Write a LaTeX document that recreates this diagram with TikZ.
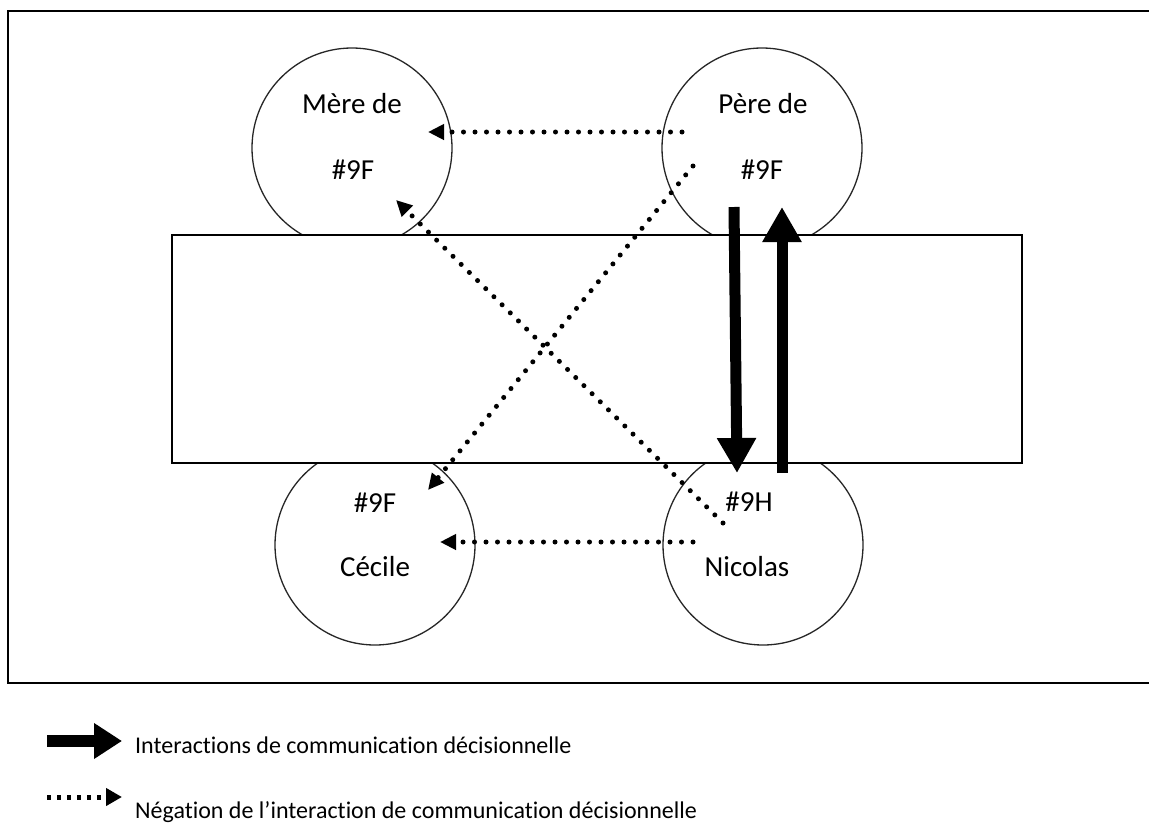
\documentclass[tikz,border=0pt]{standalone}
\usepackage{fontspec}
\setmainfont{Carlito}[Ligatures=NoCommon]
\usetikzlibrary{arrows.meta}
\begin{document}
\begin{tikzpicture}[x=1pt,y=-1pt,
  person/.style={circle,draw=black!85,line width=1.3pt,minimum size=200pt,inner sep=0pt},
  lbl/.style={font=\fontsize{29}{32}\selectfont,inner sep=0pt,anchor=center},
  legtxt/.style={font=\fontsize{24}{27}\selectfont,inner sep=0pt,anchor=west},
  bigarrow/.style={line width=11pt,-{Triangle[length=35pt,width=37pt]}},
  dotarrow/.style={line width=5pt,line cap=round,dash pattern=on 0pt off 11.5pt,-{Triangle[length=16pt,width=15pt]}},
  legbig/.style={line width=12pt,-{Triangle[length=28pt,width=34pt]}},
  legdot/.style={line width=5pt,dash pattern=on 4pt off 6pt,-{Triangle[length=16pt,width=17pt]}},
]
\useasboundingbox (0,0) rectangle (1149,830);
% outer frame
\coordinate (f1) at (1149,11);
\coordinate (f2) at (8,11);
\coordinate (f3) at (8,683);
\coordinate (f4) at (1149,683);
\draw[line width=2pt] (f1) -- (f2) -- (f3) -- (f4);
% circles
\node[person] (mere) at (352,148) {};
\node[person] (pere) at (762,148) {};
\node[person] (cecile) at (375,545) {};
\node[person] (nicolas) at (763,545) {};
% central rectangle
\node[draw=black,fill=white,line width=1.5pt,minimum width=850pt,minimum height=228pt,inner sep=0pt] (box) at (597,349) {};
% labels
\node[lbl] (t1) at (352,104) {Mère de};
\node[lbl] (t2) at (353,170) {\#9F};
\node[lbl] (t3) at (763,104) {Père de};
\node[lbl] (t4) at (762,170) {\#9F};
\node[lbl] (t5) at (375,503) {\#9F};
\node[lbl] (t6) at (375,567) {Cécile};
\node[lbl] (t7) at (749,502) {\#9H};
\node[lbl] (t8) at (747,567) {Nicolas};
% arrow end points
\coordinate (p1) at (682,132);
\coordinate (m1) at (428,132);
\coordinate (n1) at (693,542);
\coordinate (c1) at (440,542);
\coordinate (p2) at (693,166);
\coordinate (c2) at (428,490);
\coordinate (n2) at (723,523);
\coordinate (m2) at (396,200);
\coordinate (pd) at (734,207);
\coordinate (nd) at (737,473);
\coordinate (nu) at (782,473);
\coordinate (pu) at (782,207);
% dotted arrows
\draw[dotarrow] (p1) -- (m1);
\draw[dotarrow] (n1) -- (c1);
\draw[dotarrow] (p2) -- (c2);
\draw[dotarrow] (n2) -- (m2);
% thick arrows
\draw[bigarrow] (pd) -- (nd);
\draw[bigarrow] (nu) -- (pu);
% legend
\coordinate (l1a) at (47,741);
\coordinate (l1b) at (122,741);
\coordinate (l2a) at (47,797);
\coordinate (l2b) at (122,797);
\draw[legbig] (l1a) -- (l1b);
\draw[legdot] (l2a) -- (l2b);
\node[legtxt] (lt1) at (135,745) {Interactions de communication décisionnelle};
\node[legtxt] (lt2) at (135,812) {Négation de l’interaction de communication décisionnelle};
\end{tikzpicture}
\end{document}
